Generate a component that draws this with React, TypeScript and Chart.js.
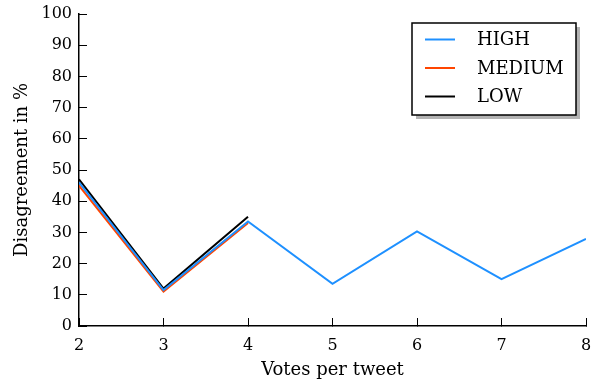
import React, { useEffect, useRef } from "react";
import { Chart, registerables } from "chart.js";

Chart.register(...registerables);

const votes = [2, 3, 4, 5, 6, 7, 8];
const highValues = [46, 11.5, 33.5, 13.5, 30.3, 15, 27.9];
const mediumValues = [45, 11, 33];
const lowValues = [47, 12, 35];
const yTicks = [0, 10, 20, 30, 40, 50, 60, 70, 80, 90, 100];

const seriesNames = ["HIGH", "MEDIUM", "LOW"];
const seriesColors = ["#1E90FF", "#FF4500", "#000000"];

const FONT = "'DejaVu Serif', serif";

const legendPlugin = {
  id: "boxLegend",
  afterDraw(chart: any) {
    const ctx = chart.ctx;
    const x0 = 412, y0 = 23, w = 164, h = 92;
    ctx.save();
    ctx.fillStyle = "#b3b3b3";
    ctx.fillRect(x0 + 4, y0 + 4, w, h);
    ctx.fillStyle = "#ffffff";
    ctx.fillRect(x0, y0, w, h);
    ctx.strokeStyle = "#000000";
    ctx.lineWidth = 1.5;
    ctx.strokeRect(x0, y0, w, h);
    ctx.font = "18px " + FONT;
    ctx.textBaseline = "middle";
    ctx.textAlign = "left";
    chart.data.datasets.forEach((ds: any, i: number) => {
      const y = y0 + 16.5 + i * 28.5;
      ctx.strokeStyle = ds.borderColor;
      ctx.lineWidth = 2;
      ctx.beginPath();
      ctx.moveTo(425, y);
      ctx.lineTo(455, y);
      ctx.stroke();
      ctx.fillStyle = "#000000";
      ctx.fillText(ds.label, 477, y + 1);
    });
    ctx.restore();
  },
};

export default function App() {
  const ref = useRef<HTMLCanvasElement | null>(null);
  useEffect(() => {
    document.body.style.margin = "0";
    const toPts = (vals: number[]) => vals.map((v, i) => ({ x: votes[i], y: v }));
    const chart = new Chart(ref.current as HTMLCanvasElement, {
      type: "line",
      data: {
        datasets: [highValues, mediumValues, lowValues].map((vals, i) => ({
          label: seriesNames[i],
          data: toPts(vals),
          borderColor: seriesColors[i],
          backgroundColor: seriesColors[i],
          borderWidth: 2,
          pointRadius: 0,
          tension: 0,
          fill: false,
        })),
      },
      options: {
        animation: false,
        responsive: false,
        layout: { padding: { top: 14, right: 11, left: 0, bottom: 0 } },
        plugins: { legend: { display: false }, tooltip: { enabled: false } },
        scales: {
          x: {
            type: "linear",
            min: votes[0],
            max: votes[votes.length - 1],
            afterFit: (s: any) => { s.height = 58; s.paddingLeft = 0; s.paddingRight = 0; },
            afterBuildTicks: (s: any) => { s.ticks = votes.map((v) => ({ value: v })); },
            border: { display: true, color: "#000000", width: 1.5 },
            grid: { drawOnChartArea: false, tickLength: -8, color: "#000000", tickWidth: 1 },
            ticks: { color: "#000000", padding: 18, font: { family: FONT, size: 16 }, maxRotation: 0 },
            title: { display: true, text: "Votes per tweet", color: "#000000", font: { family: FONT, size: 18 }, padding: { bottom: 3, top: 0 } },
          },
          y: {
            min: 0,
            max: 100,
            afterFit: (s: any) => { s.width = 79; s.paddingTop = 0; s.paddingBottom = 0; },
            afterBuildTicks: (s: any) => { s.ticks = yTicks.map((v) => ({ value: v })); },
            border: { display: true, color: "#000000", width: 1.5 },
            grid: { drawOnChartArea: false, tickLength: -8, color: "#000000", tickWidth: 1 },
            ticks: { color: "#000000", padding: 15, font: { family: FONT, size: 16 } },
            title: { display: true, text: "Disagreement in %", color: "#000000", font: { family: FONT, size: 18 }, padding: { top: 12, bottom: 0 } },
          },
        },
      },
      plugins: [legendPlugin],
    });
    return () => chart.destroy();
  }, []);
  return (
    <div style={{ width: 597, height: 384 }}>
      <canvas ref={ref} width={597} height={384} style={{ display: "block" }} />
    </div>
  );
}
